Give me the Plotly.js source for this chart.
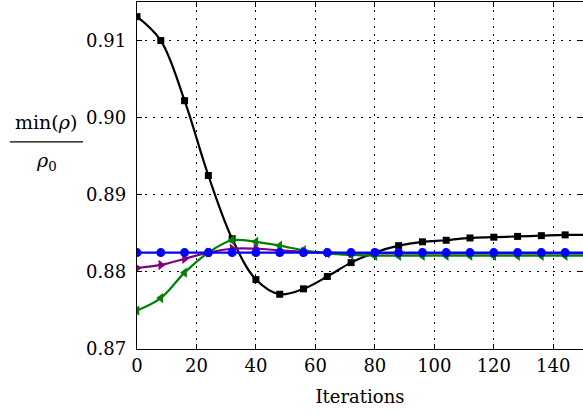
<!DOCTYPE html>
<html>
<head>
<meta charset="utf-8">
<script src="https://cdn.plot.ly/plotly-3.0.1.min.js"></script>
<style>html,body{margin:0;padding:0;background:#fff;}</style>
</head>
<body>
<div id="chart" style="width:583px;height:415px;"></div>
<script>
// Iteration sample points (markers every 8 iterations)
const iterations = [0, 8, 16, 24, 32, 40, 48, 56, 64, 72, 80, 88, 96, 104, 112, 120, 128, 136, 144, 152];

// Series values
const blackSeries  = [0.9131, 0.9100, 0.9022, 0.8925, 0.8843, 0.8790, 0.8771, 0.8778, 0.8794, 0.8812, 0.8825, 0.8834, 0.8839, 0.8841, 0.8844, 0.8845, 0.8846, 0.8847, 0.8848, 0.8848];
const purpleSeries = [0.8805, 0.8809, 0.8817, 0.8825, 0.8830, 0.8830, 0.8828, 0.8826, 0.8825, 0.8824, 0.8824, 0.8824, 0.8824, 0.8824, 0.8824, 0.8824, 0.8824, 0.8824, 0.8824, 0.8824];
const greenSeries  = [0.8750, 0.8766, 0.8799, 0.8825, 0.8841, 0.8839, 0.8834, 0.8828, 0.8824, 0.8822, 0.8821, 0.8821, 0.8821, 0.8821, 0.8821, 0.8821, 0.8821, 0.8821, 0.8821, 0.8821];
const blueSeries   = [0.8825, 0.8825, 0.8825, 0.8825, 0.8825, 0.8825, 0.8825, 0.8825, 0.8825, 0.8825, 0.8825, 0.8825, 0.8825, 0.8825, 0.8825, 0.8825, 0.8825, 0.8825, 0.8825, 0.8825];

const xTickVals = [0, 20, 40, 60, 80, 100, 120, 140];
const yTickVals = [0.87, 0.88, 0.89, 0.90, 0.91];
const xLabel = "Iterations";
const yLabelNum = "min(<i>ρ</i>)";
const yLabelDen = "<i>ρ</i><sub>0</sub>";

const FONT = "DejaVu Serif";

function series(y, color, symbol, size, width) {
  return {
    x: iterations, y: y, type: "scatter", mode: "lines+markers",
    line: {color: color, width: width, shape: "spline", smoothing: 1},
    marker: {color: color, symbol: symbol, size: size, line: {width: 0}},
    cliponaxis: true, showlegend: false, hoverinfo: "skip"
  };
}

const data = [
  series(blackSeries, "#000000", "square", 7, 2.2),
  series(purpleSeries, "#800080", "triangle-right", 9, 2.2),
  series(greenSeries, "#008000", "triangle-left", 9, 2.2),
  series(blueSeries, "#0000ff", "circle", 9, 2.2)
];

const axisCommon = {
  showline: true, linecolor: "#000", linewidth: 1.3, mirror: "ticks",
  ticks: "inside", ticklen: 5, tickwidth: 1, tickcolor: "#000",
  showgrid: true, gridcolor: "#000", gridwidth: 1, griddash: "1.5px,6.5px",
  zeroline: false,
  tickfont: {family: FONT, size: 18, color: "#000"}
};

const layout = {
  width: 583, height: 415,
  margin: {l: 137, r: 0, t: 2, b: 66},
  paper_bgcolor: "#fff", plot_bgcolor: "#fff",
  font: {family: FONT, color: "#000"},
  xaxis: Object.assign({}, axisCommon, {
    range: [0, 150], tickvals: xTickVals, ticktext: xTickVals.map(String),
    title: {text: xLabel, font: {family: FONT, size: 18, color: "#000"}, standoff: 15}
  }),
  yaxis: Object.assign({}, axisCommon, {
    range: [0.87, 0.915], tickvals: yTickVals, ticktext: yTickVals.map(v => v.toFixed(2)),
    ticklabelstandoff: 6
  }),
  annotations: [
    {xref: "paper", yref: "paper", x: -0.204, y: 0.655, text: yLabelNum, showarrow: false,
     xanchor: "center", yanchor: "middle", font: {family: FONT, size: 19, color: "#000"}},
    {xref: "paper", yref: "paper", x: -0.204, y: 0.54, text: yLabelDen, showarrow: false,
     xanchor: "center", yanchor: "middle", font: {family: FONT, size: 19, color: "#000"}}
  ],
  shapes: [
    {type: "line", xref: "paper", yref: "paper", x0: -0.285, x1: -0.121, y0: 0.597, y1: 0.597,
     line: {color: "#000", width: 1.3}}
  ]
};

Plotly.newPlot("chart", data, layout, {displayModeBar: false, staticPlot: true});
</script>
</body>
</html>
